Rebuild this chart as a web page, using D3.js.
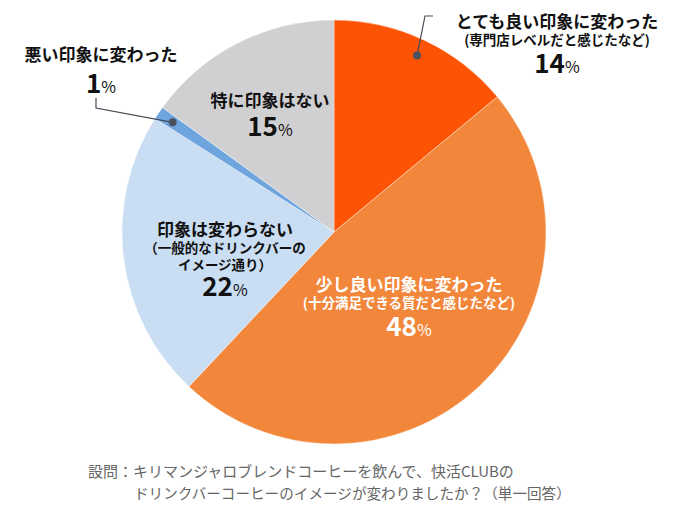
<!DOCTYPE html>
<html>
<head>
<meta charset="utf-8">
<script src="https://cdn.jsdelivr.net/npm/d3@7"></script>
<style>
  body { margin: 0; background: #fff; }
  svg { display: block; font-family: "Noto Sans CJK JP", "Noto Sans", sans-serif; }
</style>
</head>
<body>
<svg id="chart"></svg>
<script>
// Data
const categories = ["とても良い印象に変わった", "少し良い印象に変わった", "印象は変わらない", "悪い印象に変わった", "特に印象はない"];
const notes = [["(専門店レベルだと感じたなど)"], ["(十分満足できる質だと感じたなど)"], ["（一般的なドリンクバーの", "イメージ通り）"], [], []];
const values = [14, 48, 22, 1, 15];
const colors = ["#fc5304", "#f2863a", "#c9ddf3", "#6fa5de", "#d0d0d2"];
const question = ["設問：キリマンジャロブレンドコーヒーを飲んで、快活CLUBの", "ドリンクバーコーヒーのイメージが変わりましたか？（単一回答）"];

const width = 698, height = 518;
const cx = 334, cy = 232, radius = 212;

const svg = d3.select("#chart").attr("width", width).attr("height", height);
const g = svg.append("g").attr("transform", `translate(${cx},${cy})`);

const pie = d3.pie().sort(null).value(d => d);
const arcs = pie(values);
const arc = d3.arc().innerRadius(0).outerRadius(radius);

g.selectAll("path.slice")
  .data(arcs)
  .enter().append("path")
  .attr("class", "slice")
  .attr("d", arc)
  .attr("fill", (d, i) => colors[i])
  .attr("stroke", "#fff")
  .attr("stroke-width", 0.4);

// label layout (relative to pie centre): x, y of first line, line spacing, text colour
const layout = [
  { x: 223, y: -204, sub: 17, pct: 45, color: "#111", lead: [[91, -216], [99, -216]] },
  { x: 75, y: 59, sub: 17, pct: 45, color: "#fff" },
  { x: -109, y: 4, sub: 17, pct: 60, color: "#111" },
  { x: -233, y: -171, sub: 0, pct: 32, color: "#111", lead: [[-238, -124], [-238, -134]] },
  { x: -64, y: -125, sub: 0, pct: 29, color: "#111" }
];

const dotArc = d3.arc().innerRadius(radius * 0.92).outerRadius(radius * 0.92);

arcs.forEach((d, i) => {
  const L = layout[i];
  const lab = g.append("g").attr("fill", L.color).attr("text-anchor", "middle");
  lab.append("text")
    .attr("x", L.x).attr("y", L.y)
    .attr("font-size", 17).attr("font-weight", 700)
    .text(categories[i]);
  notes[i].forEach((n, j) => {
    lab.append("text")
      .attr("x", L.x).attr("y", L.y + L.sub * (j + 1))
      .attr("font-size", 13.5).attr("font-weight", 700)
      .text(n);
  });
  const p = lab.append("text")
    .attr("x", L.x).attr("y", L.y + L.pct)
    .attr("font-weight", 700);
  p.append("tspan").attr("font-size", 26).text(values[i]);
  p.append("tspan").attr("font-size", 16).attr("font-weight", 400).text("%");

  if (L.lead) {
    const c = dotArc.centroid(d);
    const pts = [c].concat(L.lead);
    g.append("path")
      .attr("d", d3.line()(pts))
      .attr("fill", "none")
      .attr("stroke", "#454a55")
      .attr("stroke-width", 1.2);
    g.append("circle")
      .attr("cx", c[0]).attr("cy", c[1]).attr("r", 4)
      .attr("fill", "#4a5262");
  }
});

// question footer
svg.append("text")
  .attr("x", 88).attr("y", 477)
  .attr("font-size", 15).attr("fill", "#666")
  .text(question[0]);
svg.append("text")
  .attr("x", 134).attr("y", 499)
  .attr("font-size", 14.6).attr("fill", "#666")
  .text(question[1]);
</script>
</body>
</html>
